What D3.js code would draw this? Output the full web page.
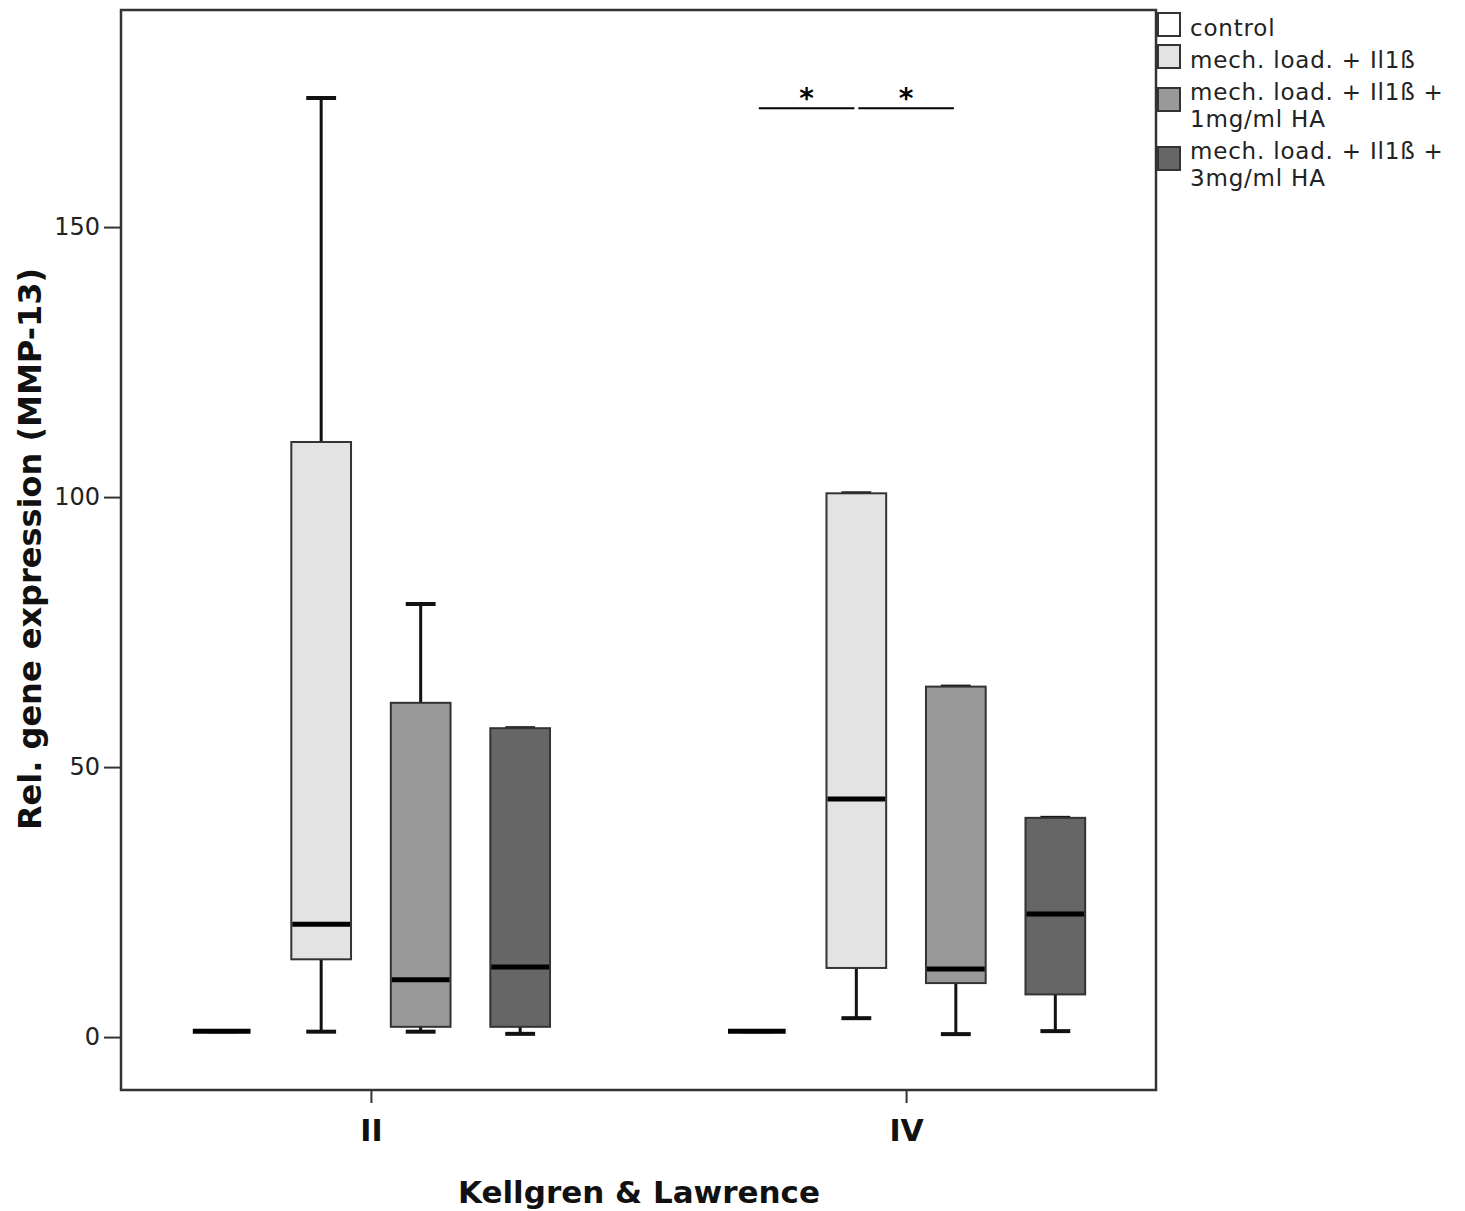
<!DOCTYPE html>
<html>
<head>
<meta charset="utf-8">
<script src="https://cdn.jsdelivr.net/npm/d3@7"></script>
<style>
  body { margin: 0; background: #fff; }
  text { font-family: "DejaVu Sans", sans-serif; }
</style>
</head>
<body>
<script>
// data
var categories = ["II", "IV"];
var series = ["control", "mech. load. + Il1ß", "mech. load. + Il1ß + 1mg/ml HA", "mech. load. + Il1ß + 3mg/ml HA"];
var legendLines = [["control"], ["mech. load. + Il1ß"], ["mech. load. + Il1ß +", "1mg/ml HA"], ["mech. load. + Il1ß +", "3mg/ml HA"]];
var fills = ["#ffffff", "#e3e3e3", "#999999", "#666666"];
var yTicks = [0, 50, 100, 150];

// box stats per series, one entry per category: [min, q1, median, q3, max]
var controlStats = [[1.1, 1.1, 1.1, 1.1, 1.1], [1.1, 1.1, 1.1, 1.1, 1.1]];
var mechStats = [[1.0, 14.4, 20.9, 110.2, 173.9], [3.5, 12.8, 44.1, 100.7, 100.7]];
var ha1Stats = [[1.0, 1.9, 10.6, 61.9, 80.2], [0.55, 10.0, 12.6, 64.9, 64.9]];
var ha3Stats = [[0.6, 1.9, 13.0, 57.2, 57.2], [1.1, 7.9, 22.8, 40.6, 40.6]];
var allStats = [controlStats, mechStats, ha1Stats, ha3Stats];

// significance marks: category, from series, to series, level
var sigMarks = [["IV", 0, 1, 172], ["IV", 1, 2, 172]];

var width = 1465, height = 1211;
var plotLeft = 121, plotRight = 1156, plotTop = 10, plotBottom = 1090;

var svg = d3.select("body").append("svg")
    .attr("width", width)
    .attr("height", height);

var x = d3.scalePoint()
    .domain(categories)
    .range([plotLeft, plotRight])
    .padding(0.467);

var inner = d3.scaleBand()
    .domain(d3.range(series.length))
    .range([-199, 199])
    .paddingInner(0.4)
    .paddingOuter(0.2);

var y = d3.scaleLinear()
    .domain([-9.8, 190.2])
    .range([plotBottom, plotTop]);

// flatten into boxes
var boxes = [];
allStats.forEach(function (st, s) {
    st.forEach(function (d, c) {
        boxes.push({ s: s, cat: categories[c], min: d[0], q1: d[1], med: d[2], q3: d[3], max: d[4] });
    });
});

var bw = inner.bandwidth();
function cx(d) { return x(d.cat) + inner(d.s) + bw / 2; }

var g = svg.append("g");

// whiskers
g.selectAll("line.whisk")
    .data(boxes)
    .enter().append("line")
    .attr("class", "whisk")
    .attr("x1", cx).attr("x2", cx)
    .attr("y1", function (d) { return y(d.min); })
    .attr("y2", function (d) { return y(d.max); })
    .attr("stroke", "#111")
    .attr("stroke-width", 3);

// caps
["min", "max"].forEach(function (k) {
    g.selectAll("line.cap-" + k)
        .data(boxes)
        .enter().append("line")
        .attr("class", "cap-" + k)
        .attr("x1", function (d) { return cx(d) - bw / 4; })
        .attr("x2", function (d) { return cx(d) + bw / 4; })
        .attr("y1", function (d) { return y(d[k]); })
        .attr("y2", function (d) { return y(d[k]); })
        .attr("stroke", "#111")
        .attr("stroke-width", 4);
});

// boxes
g.selectAll("rect.box")
    .data(boxes)
    .enter().append("rect")
    .attr("class", "box")
    .attr("x", function (d) { return cx(d) - bw / 2; })
    .attr("width", bw)
    .attr("y", function (d) { return y(d.q3); })
    .attr("height", function (d) { return y(d.q1) - y(d.q3); })
    .attr("fill", function (d) { return fills[d.s]; })
    .attr("stroke", "#333")
    .attr("stroke-width", 2);

// medians
g.selectAll("line.med")
    .data(boxes)
    .enter().append("line")
    .attr("class", "med")
    .attr("x1", function (d) { return cx(d) - bw / 2 + 1; })
    .attr("x2", function (d) { return cx(d) + bw / 2 - 1; })
    .attr("y1", function (d) { return y(d.med); })
    .attr("y2", function (d) { return y(d.med); })
    .attr("stroke", "#000")
    .attr("stroke-width", 5);

// significance lines + asterisks
g.selectAll("line.sig")
    .data(sigMarks)
    .enter().append("line")
    .attr("class", "sig")
    .attr("x1", function (d) { return x(d[0]) + inner(d[1]) + bw / 2 + 2; })
    .attr("x2", function (d) { return x(d[0]) + inner(d[2]) + bw / 2 - 2; })
    .attr("y1", function (d) { return y(d[3]); })
    .attr("y2", function (d) { return y(d[3]); })
    .attr("stroke", "#000")
    .attr("stroke-width", 2);

g.selectAll("text.star")
    .data(sigMarks)
    .enter().append("text")
    .attr("class", "star")
    .attr("x", function (d) { return x(d[0]) + (inner(d[1]) + inner(d[2])) / 2 + bw / 2; })
    .attr("y", function (d) { return y(d[3]); })
    .attr("text-anchor", "middle")
    .attr("font-size", 28)
    .attr("font-weight", "bold")
    .text("*");

// frame
svg.append("rect")
    .attr("x", plotLeft).attr("y", plotTop)
    .attr("width", plotRight - plotLeft).attr("height", plotBottom - plotTop)
    .attr("fill", "none")
    .attr("stroke", "#333")
    .attr("stroke-width", 2.5);

// y axis
var yAxis = svg.append("g")
    .attr("transform", "translate(" + plotLeft + ",0)")
    .call(d3.axisLeft(y).tickValues(yTicks).tickSize(17).tickPadding(4));
yAxis.select(".domain").remove();
yAxis.selectAll(".tick line").attr("stroke", "#333").attr("stroke-width", 2);
yAxis.selectAll(".tick text")
    .attr("font-family", "DejaVu Sans")
    .attr("font-size", 24)
    .attr("fill", "#222");

// x axis
var xAxis = svg.append("g")
    .attr("transform", "translate(0," + plotBottom + ")")
    .call(d3.axisBottom(x).tickSize(13).tickPadding(17));
xAxis.select(".domain").remove();
xAxis.selectAll(".tick line").attr("stroke", "#333").attr("stroke-width", 2);
xAxis.selectAll(".tick text")
    .attr("font-family", "DejaVu Sans Condensed")
    .attr("font-weight", "bold")
    .attr("font-size", 30)
    .attr("fill", "#111");

// axis titles
svg.append("text")
    .attr("x", 639).attr("y", 1203)
    .attr("text-anchor", "middle")
    .attr("font-family", "DejaVu Sans Condensed")
    .attr("font-weight", "bold")
    .attr("font-size", 31)
    .attr("fill", "#111")
    .text("Kellgren & Lawrence");

svg.append("text")
    .attr("transform", "translate(41,549) rotate(-90)")
    .attr("text-anchor", "middle")
    .attr("font-family", "DejaVu Sans Condensed")
    .attr("font-weight", "bold")
    .attr("font-size", 32)
    .attr("fill", "#111")
    .text("Rel. gene expression (MMP-13)");

// legend
var legendY = [13, 45, 88, 147];
var legend = svg.append("g");
var items = legend.selectAll("g")
    .data(series)
    .enter().append("g")
    .attr("transform", function (d, i) { return "translate(1158," + legendY[i] + ")"; });

items.append("rect")
    .attr("width", 22).attr("height", 23)
    .attr("fill", function (d, i) { return fills[i]; })
    .attr("stroke", "#333")
    .attr("stroke-width", 2);

items.append("text")
    .attr("x", 32)
    .attr("font-size", 23)
    .attr("letter-spacing", 0.8)
    .attr("fill", "#222")
    .selectAll("tspan")
    .data(function (d, i) { return legendLines[i]; })
    .enter().append("tspan")
    .attr("x", 32)
    .attr("y", function (d, j, nodes) {
        var start = nodes.length > 1 ? 12 : 23;
        return start + j * 27;
    })
    .text(function (d) { return d; });
</script>
</body>
</html>
